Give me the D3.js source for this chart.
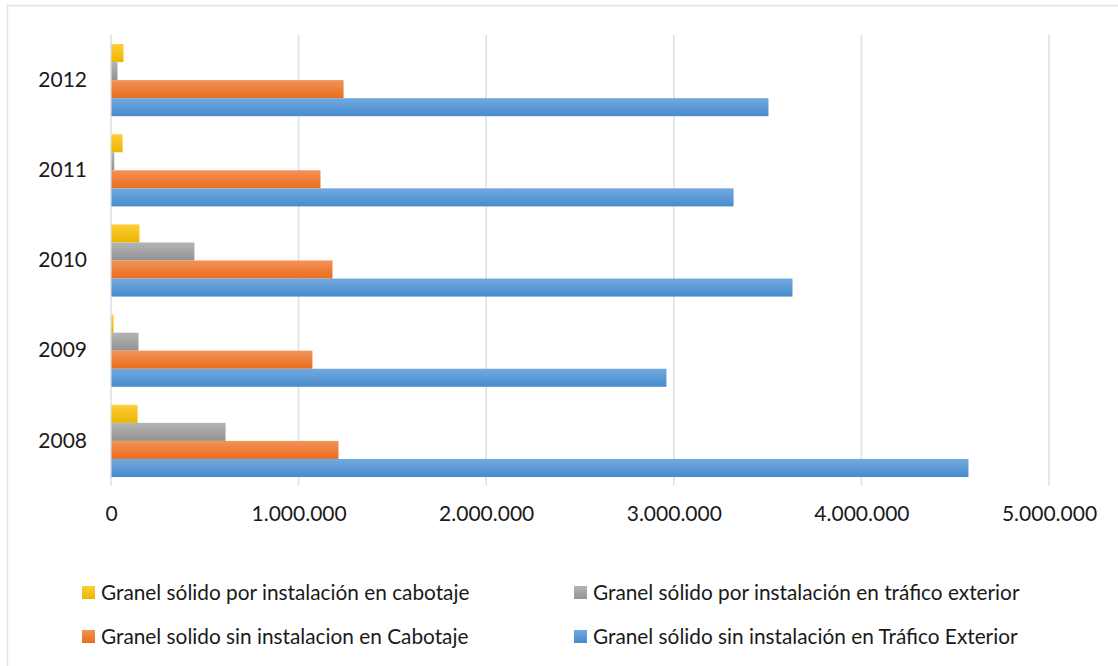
<!DOCTYPE html>
<html>
<head>
<meta charset="utf-8">
<script src="https://cdn.jsdelivr.net/npm/d3@7"></script>
<style>
  html, body { margin: 0; padding: 0; background: #fff; }
  svg { display: block; font-family: Lato, "Open Sans", sans-serif; }
</style>
</head>
<body>
<svg id="chart" width="1118" height="666"></svg>
<script>
// Years, top to bottom
const years = ["2012", "2011", "2010", "2009", "2008"];

// Series (tonnes), listed per year in the same order as `years`
const cabotajeInstalacion = [64000, 59000, 149000, 11000, 139000];
const exteriorInstalacion = [32000, 15000, 442000, 144000, 608000];
const cabotajeSinInstalacion = [1237000, 1114000, 1178000, 1071000, 1210000];
const exteriorSinInstalacion = [3502000, 3316000, 3630000, 2958000, 4568000];

const seriesNames = [
  "Granel sólido por instalación en cabotaje",
  "Granel sólido por instalación en tráfico exterior",
  "Granel solido sin instalacion en Cabotaje",
  "Granel sólido sin instalación en Tráfico Exterior"
];

const xTicks = [0, 1000000, 2000000, 3000000, 4000000, 5000000];

// Bar fills: light top, darker bottom
const palette = [
  { top: "#ffcd3a", bottom: "#e9b600" },
  { top: "#b4b4b4", bottom: "#939393" },
  { top: "#f39258", bottom: "#e86d1e" },
  { top: "#72a9df", bottom: "#478bcc" }
];

const seriesValues = [cabotajeInstalacion, exteriorInstalacion, cabotajeSinInstalacion, exteriorSinInstalacion];
const series = seriesNames.map((name, i) => ({ name, values: seriesValues[i], key: "s" + i }));

const svg = d3.select("#chart");

// Outer chart frame
svg.append("rect")
  .attr("x", 7.5).attr("y", 5.5)
  .attr("width", 1130).attr("height", 680)
  .attr("fill", "none").attr("stroke", "#dfe3e8").attr("stroke-width", 1.5);

const defs = svg.append("defs");
palette.forEach((c, i) => {
  const g = defs.append("linearGradient")
    .attr("id", "grad" + i).attr("x1", 0).attr("y1", 0).attr("x2", 0).attr("y2", 1);
  g.append("stop").attr("offset", "0%").attr("stop-color", c.top);
  g.append("stop").attr("offset", "100%").attr("stop-color", c.bottom);
});

const x = d3.scaleLinear().domain([0, 5000000]).range([111, 1049]);
const y = d3.scaleBand().domain(years).range([35, 486]).paddingInner(0.2).paddingOuter(0.1);
const ySub = d3.scaleBand().domain(series.map(s => s.key)).range([0, y.bandwidth()]);

const locale = d3.formatLocale({ decimal: ",", thousands: ".", grouping: [3], currency: ["", "€"] });
const fmt = locale.format(",d");

// Vertical gridlines
svg.append("g")
  .selectAll("line")
  .data(xTicks)
  .join("line")
  .attr("x1", d => x(d)).attr("x2", d => x(d))
  .attr("y1", 35).attr("y2", 486)
  .attr("stroke", "#dde2e8").attr("stroke-width", 1.6);

// X axis labels
const xAxis = d3.axisBottom(x).tickValues(xTicks).tickFormat(fmt).tickSize(0).tickPadding(0);
const gx = svg.append("g").attr("transform", "translate(0,506)").call(xAxis);
gx.select(".domain").remove();
gx.selectAll("text")
  .attr("font-family", "Lato, 'Open Sans', sans-serif")
  .attr("font-size", 21).attr("fill", "#1a1a1a")
  .attr("dy", "0.71em");

// Y axis labels
const yAxis = d3.axisLeft(y).tickSize(0).tickPadding(0);
const gy = svg.append("g").attr("transform", "translate(87,0)").call(yAxis);
gy.select(".domain").remove();
gy.selectAll("text")
  .attr("font-family", "Lato, 'Open Sans', sans-serif")
  .attr("font-size", 21).attr("fill", "#1a1a1a");

// Bars
const groups = svg.append("g")
  .selectAll("g")
  .data(series)
  .join("g")
  .attr("fill", (d, i) => `url(#grad${i})`);

groups.selectAll("rect")
  .data(s => s.values.map((v, j) => ({ key: s.key, year: years[j], value: v })))
  .join("rect")
  .attr("x", x(0) + 0.5)
  .attr("y", d => y(d.year) + ySub(d.key))
  .attr("width", d => x(d.value) - x(0))
  .attr("height", ySub.bandwidth());

// Legend, two columns by two rows
const legendPos = [
  { x: 82, y: 593 },
  { x: 574, y: 593 },
  { x: 82, y: 637 },
  { x: 574, y: 637 }
];
const legend = svg.append("g")
  .selectAll("g")
  .data(series)
  .join("g")
  .attr("transform", (d, i) => `translate(${legendPos[i].x},${legendPos[i].y})`);
legend.append("rect")
  .attr("x", 0).attr("y", -7).attr("width", 13).attr("height", 13)
  .attr("fill", (d, i) => `url(#grad${i})`);
legend.append("text")
  .attr("x", 19).attr("y", 0).attr("dy", "0.35em")
  .attr("font-size", 20.8).attr("fill", "#1a1a1a")
  .text(d => d.name);
</script>
</body>
</html>
